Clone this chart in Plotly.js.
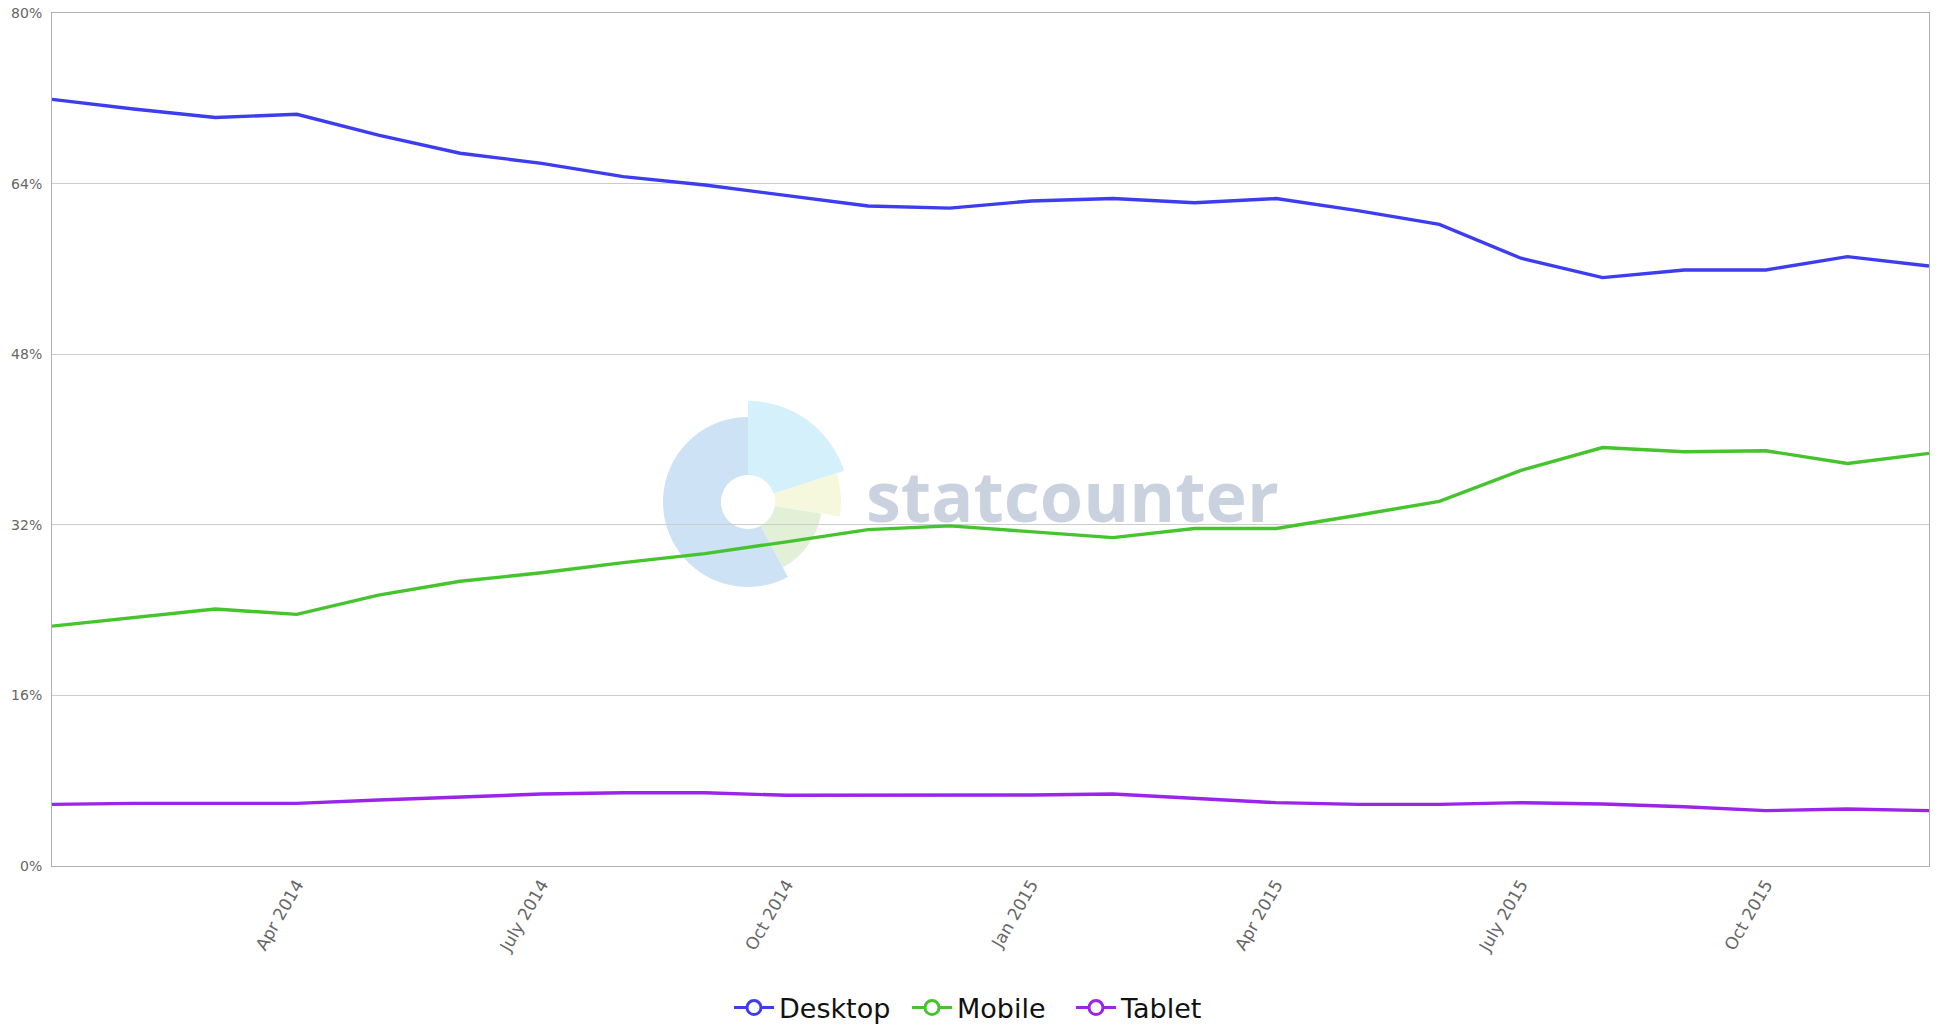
<!DOCTYPE html>
<html>
<head>
<meta charset="utf-8">
<script src="https://cdn.plot.ly/plotly-3.0.1.min.js"></script>
<style>html,body{margin:0;padding:0;background:#fff;}#chart{width:1939px;height:1026px;}</style>
</head>
<body>
<div id="chart"></div>
<script>
const months = ['Jan 2014','Feb 2014','Mar 2014','Apr 2014','May 2014','Jun 2014','Jul 2014','Aug 2014','Sep 2014','Oct 2014','Nov 2014','Dec 2014',
                'Jan 2015','Feb 2015','Mar 2015','Apr 2015','May 2015','Jun 2015','Jul 2015','Aug 2015','Sep 2015','Oct 2015','Nov 2015','Dec 2015'];
const desktop = [71.9,71.0,70.2,70.5,68.55,66.85,65.9,64.65,63.87,62.9,61.9,61.7,62.37,62.6,62.2,62.6,61.46,60.18,57.0,55.18,55.9,55.9,57.15,56.27];
const mobile  = [22.5,23.3,24.1,23.6,25.4,26.7,27.5,28.45,29.3,30.4,31.55,31.9,31.35,30.8,31.65,31.65,32.9,34.2,37.1,39.25,38.85,38.95,37.75,38.7];
const tablet  = [5.78,5.87,5.87,5.87,6.19,6.5,6.75,6.87,6.87,6.63,6.63,6.63,6.66,6.75,6.35,5.94,5.78,5.78,5.94,5.81,5.56,5.19,5.34,5.19];
const seriesNames = ['Desktop','Mobile','Tablet'];
const seriesColors = ['#3d3def','#45c42e','#9b24ea'];
const tickMonths = ['Apr 2014','Jul 2014','Oct 2014','Jan 2015','Apr 2015','Jul 2015','Oct 2015'];
const tickLabels = ['Apr 2014','July 2014','Oct 2014','Jan 2015','Apr 2015','July 2015','Oct 2015'];
const yTicks = [0,16,32,48,64,80];
const yTickLabels = ['0%','16%','32%','48%','64%','80%'];

const values = [desktop, mobile, tablet];
const legendIds = ['legend','legend2','legend3'];
const traces = [];
values.forEach((v,i)=>{
  traces.push({x: months, y: v, type:'scatter', mode:'lines', name: seriesNames[i],
    line:{color: seriesColors[i], width:3.4}, showlegend:false, hoverinfo:'x+y+name'});
});
seriesNames.forEach((n,i)=>{
  traces.push({x:[null], y:[null], type:'scatter', mode:'lines+markers', name:n, legend: legendIds[i],
    line:{color: seriesColors[i], width:3},
    marker:{symbol:'circle', size:14, color:'#ffffff', line:{color: seriesColors[i], width:3}}});
});

// statcounter watermark logo (decorative)
function wedge(a1, a2, R, r){
  const pts = [];
  const n = 60;
  for(let k=0;k<=n;k++){ const a=(a1+(a2-a1)*k/n)*Math.PI/180; pts.push([R*Math.cos(a), R*Math.sin(a)]); }
  for(let k=n;k>=0;k--){ const a=(a1+(a2-a1)*k/n)*Math.PI/180; pts.push([r*Math.cos(a), r*Math.sin(a)]); }
  return 'M' + pts.map(p=>p[0].toFixed(2)+','+p[1].toFixed(2)).join(' L') + ' Z';
}
const logoX = (748-52)/1877, logoY = (866-502)/853;
const logoParts = [
  {a1:90, a2:298, R:85, c:'#cde2f5'},
  {a1:18, a2:90, R:101, c:'#d3f0fb'},
  {a1:-9, a2:18, R:93, c:'#f5f8dc'},
  {a1:-62, a2:-9, R:74, c:'#e2f0d8'}
];
const shapes = logoParts.map(p=>({type:'path', layer:'below', xref:'paper', yref:'paper',
  xsizemode:'pixel', ysizemode:'pixel', xanchor:logoX, yanchor:logoY,
  path: wedge(p.a1,p.a2,p.R,27), fillcolor:p.c, line:{width:0}}));

const legendStarts = [734, 912, 1076];
function legendAt(px){
  return {orientation:'h', xref:'container', yref:'container', x:(px-5)/1939, xanchor:'left',
    y:1-1008/1026, yanchor:'middle', font:{size:27, color:'#111', family:'DejaVu Sans, sans-serif'},
    itemwidth:40, bgcolor:'rgba(0,0,0,0)', borderwidth:0};
}

const layout = {
  width:1939, height:1026,
  margin:{l:52, r:10, t:13, b:160, autoexpand:false},
  paper_bgcolor:'#ffffff', plot_bgcolor:'rgba(0,0,0,0)',
  font:{family:'DejaVu Sans, sans-serif', color:'#666'},
  xaxis:{type:'category', range:[0,23], showgrid:false, zeroline:false,
    showline:true, linecolor:'#b0b0b0', linewidth:1, mirror:true,
    tickvals: tickMonths, ticktext: tickLabels, tickangle:-60, ticks:'outside', ticklen:1, tickcolor:'rgba(0,0,0,0)',
    tickfont:{size:17, color:'#666', family:'DejaVu Sans, sans-serif'}},
  yaxis:{range:[0,80], tickvals:yTicks, ticktext:yTickLabels, showgrid:true, gridcolor:'#cccccc', gridwidth:1,
    zeroline:false, showline:true, linecolor:'#b0b0b0', linewidth:1, mirror:true,
    ticks:'outside', ticklen:6, tickcolor:'rgba(0,0,0,0)',
    tickfont:{size:14, color:'#666', family:'DejaVu Sans, sans-serif'}},
  showlegend:true,
  legend: legendAt(legendStarts[0]),
  legend2: legendAt(legendStarts[1]),
  legend3: legendAt(legendStarts[2]),
  shapes: shapes,
  annotations:[{text:'statcounter', xref:'paper', yref:'paper', x:(1072-52)/1877, y:(866-495)/853,
    xanchor:'center', yanchor:'middle', showarrow:false,
    font:{family:'Open Sans, sans-serif', size:70, weight:700, color:'#cbd2df'}}]
};
Plotly.newPlot('chart', traces, layout, {displayModeBar:false, staticPlot:true});
</script>
</body>
</html>
